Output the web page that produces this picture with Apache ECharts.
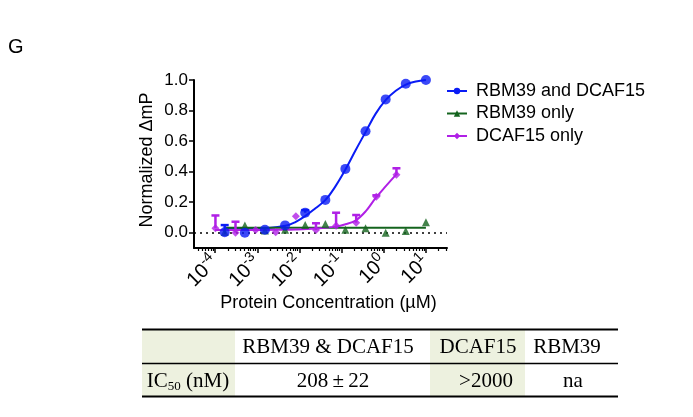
<!DOCTYPE html>
<html>
<head>
<meta charset="utf-8">
<script src="https://cdn.jsdelivr.net/npm/echarts@6/dist/echarts.min.js"></script>
<style>
  html, body { margin: 0; padding: 0; background: #fff; }
  #chart { width: 693px; height: 417px; }
</style>
</head>
<body>
<div id="chart"></div>
<script>
// concentrations in uM (3-fold dilutions)
const concBoth = [0.000169, 0.000508, 0.00152, 0.00457, 0.0137, 0.0412, 0.123, 0.370, 1.11, 3.33, 10];
const concDcaf = [0.000102, 0.000305, 0.000914, 0.00274, 0.00823, 0.0247, 0.0741, 0.222, 0.667, 2];

// measured points
const bothVals  = [0.003, 0.0, 0.02, 0.048, 0.131, 0.215, 0.418, 0.665, 0.873, 0.976, 1.0];
const bothErr   = [0.05, null, null, null, 0.148, null, null, null, null, null, null];
const rbmVals   = [0.005, 0.048, 0.015, 0.02, 0.05, 0.057, 0.02, 0.03, 0.0, 0.011, 0.068];
const dcafVals  = [0.03, 0.0, 0.018, 0.003, 0.108, 0.018, 0.046, 0.066, 0.236, 0.379];
const dcafErr   = [0.113, 0.072, null, null, null, 0.062, 0.131, 0.116, 0.245, 0.422];

// fitted curves
const bothFitConc = [0.000173, 0.000518, 0.00155, 0.00464, 0.00803, 0.0139, 0.024, 0.0416, 0.072, 0.124, 0.215, 0.372, 0.645, 1.12, 1.93, 3.34, 5.78, 10];
const bothFitVals = [0.025, 0.026, 0.03, 0.045, 0.07, 0.11, 0.16, 0.215, 0.305, 0.415, 0.54, 0.66, 0.78, 0.87, 0.93, 0.97, 0.99, 1.0];
const rbmFitConc  = [0.000169, 10];
const rbmFitVals  = [0.032, 0.032];
const dcafFitConc = [0.0001, 0.000299, 0.000896, 0.00268, 0.00803, 0.024, 0.072, 0.124, 0.215, 0.372, 0.645, 1.12, 2.04];
const dcafFitVals = [0.018, 0.018, 0.018, 0.019, 0.021, 0.027, 0.04, 0.055, 0.08, 0.14, 0.228, 0.305, 0.385];

const names = ['RBM39 and DCAF15', 'RBM39 only', 'DCAF15 only'];
const colors = ['#0a1cf5', '#14641e', '#b020e6'];

const xMajor = [-4, -3, -2, -1, 0, 1];
const yTicks = [0, 0.2, 0.4, 0.6, 0.8, 1.0];

const tableHead = ['RBM39 & DCAF15', 'DCAF15', 'RBM39'];
const tableRow = ['208\u2009\u00b1\u200922', '>2000', 'na'];

// minor log ticks between decades
const xMinor = [];
for (let d = -5; d <= 1; d++) {
  for (let k = 2; k <= 9; k++) {
    const v = Math.log10(k) + d;
    if (v > -4.5 && v < 1.5) xMinor.push(v);
  }
}

const pts = (xs, ys) => xs.map((c, i) => [Math.log10(c), ys[i]]);
const errPts = (xs, ys, hi) => xs.map((c, i) => [Math.log10(c), ys[i], hi[i]]).filter(d => d[2] != null);

function errRender(color) {
  return function (params, api) {
    const p = api.coord([api.value(0), api.value(1)]);
    const q = api.coord([api.value(0), api.value(2)]);
    return {
      type: 'group',
      children: [
        { type: 'line', shape: { x1: p[0], y1: p[1], x2: q[0], y2: q[1] }, style: { stroke: color, lineWidth: 2.5 } },
        { type: 'line', shape: { x1: q[0] - 4, y1: q[1], x2: q[0] + 4, y2: q[1] }, style: { stroke: color, lineWidth: 2.5 } }
      ]
    };
  };
}

const font = 'Liberation Sans, Arial, sans-serif';
const serif = 'Liberation Serif, Times New Roman, serif';

const chart = echarts.init(document.getElementById('chart'));
chart.setOption({
  animation: false,
  textStyle: { fontFamily: font, color: '#000' },
  grid: { left: 194, right: 246, top: 80, bottom: 169 },
  legend: {
    data: names,
    orient: 'vertical',
    left: 446,
    top: 82,
    padding: 0,
    itemWidth: 20,
    itemHeight: 8,
    itemGap: 4.5,
    selectedMode: false,
    textStyle: { fontSize: 18, color: '#000', fontFamily: font, padding: [0, 0, 0, 4] }
  },
  xAxis: [
    {
      type: 'value', min: -4.5, max: 1.5, position: 'bottom',
      name: 'Protein Concentration (\u00b5M)', nameLocation: 'middle', nameGap: 45,
      nameTextStyle: { fontSize: 18, color: '#000', padding: [0, 0, 0, 16] },
      axisLine: { onZero: false, lineStyle: { color: '#000', width: 2 } },
      axisTick: { customValues: xMajor, length: 5, lineStyle: { color: '#000', width: 1.5 } },
      axisLabel: {
        customValues: xMajor, rotate: 45, margin: 11, color: '#000', fontSize: 20,
        formatter: v => '{b|10}{s|' + v + '}',
        rich: {
          b: { fontSize: 20, fontFamily: font, color: '#000' },
          s: { fontSize: 14, fontFamily: font, color: '#000', padding: [0, 0, 13, 0] }
        }
      },
      splitLine: { show: false }
    },
    {
      type: 'value', min: -4.5, max: 1.5, position: 'bottom', gridIndex: 0,
      axisLine: { show: false, onZero: false },
      axisTick: { customValues: xMinor, length: 3, lineStyle: { color: '#000', width: 1.2 } },
      axisLabel: { show: false },
      splitLine: { show: false }
    }
  ],
  yAxis: {
    type: 'value', min: -0.1, max: 1.0, position: 'left',
    name: 'Normalized \u0394mP', nameLocation: 'middle', nameGap: 38,
    nameTextStyle: { fontSize: 18, color: '#000', padding: [0, 0, 0, 8] },
    axisLine: { show: true, onZero: false, lineStyle: { color: '#000', width: 2 } },
    axisTick: { show: true, customValues: yTicks, length: 5, lineStyle: { color: '#000', width: 1.5 } },
    axisLabel: { customValues: yTicks, fontSize: 17, color: '#000', margin: 6, formatter: v => v.toFixed(1) },
    splitLine: { show: false }
  },
  series: [
    {
      name: names[0], type: 'line', data: pts(bothFitConc, bothFitVals),
      smooth: 0.4, showSymbol: false, symbol: 'circle', color: colors[0],
      lineStyle: { width: 2 }, z: 3,
      markLine: {
        silent: true, symbol: 'none', label: { show: false },
        lineStyle: { type: [2, 4], color: '#000', width: 1.5 },
        data: [{ yAxis: 0 }]
      }
    },
    {
      name: names[1], type: 'line', data: pts(rbmFitConc, rbmFitVals),
      showSymbol: false, symbol: 'triangle', color: colors[1], lineStyle: { width: 2 }, z: 3
    },
    {
      name: names[2], type: 'line', data: pts(dcafFitConc, dcafFitVals),
      smooth: 0.4, showSymbol: false, symbol: 'diamond', color: colors[2], lineStyle: { width: 2 }, z: 3
    },
    { name: 'err1', type: 'custom', renderItem: errRender(colors[0]), data: errPts(concBoth, bothVals, bothErr), z: 4 },
    { name: 'err3', type: 'custom', renderItem: errRender(colors[2]), data: errPts(concDcaf, dcafVals, dcafErr), z: 4 },
    { name: 'pts2', type: 'scatter', data: pts(concBoth, rbmVals), symbol: 'triangle', symbolSize: 8, color: colors[1], z: 5 },
    { name: 'pts3', type: 'scatter', data: pts(concDcaf, dcafVals), symbol: 'diamond', symbolSize: 8, color: colors[2], z: 5 },
    { name: 'pts1', type: 'scatter', data: pts(concBoth, bothVals), symbol: 'circle', symbolSize: 10, color: colors[0], z: 6 }
  ],
  graphic: [
    { type: 'text', left: 8, top: 37, style: { text: 'G', fontSize: 20, fontFamily: font, fill: '#000' } },
    // table shading
    { type: 'rect', shape: { x: 142, y: 330, width: 93, height: 66 }, style: { fill: '#edf1df' }, silent: true },
    { type: 'rect', shape: { x: 430, y: 330, width: 95, height: 66 }, style: { fill: '#edf1df' }, silent: true },
    // table rules
    { type: 'line', shape: { x1: 142, y1: 329.5, x2: 618, y2: 329.5 }, style: { stroke: '#000', lineWidth: 2 } },
    { type: 'line', shape: { x1: 142, y1: 363.5, x2: 618, y2: 363.5 }, style: { stroke: '#000', lineWidth: 1.5 } },
    { type: 'line', shape: { x1: 142, y1: 396.5, x2: 618, y2: 396.5 }, style: { stroke: '#000', lineWidth: 2 } },
    // header row
    { type: 'text', x: 328, y: 347, style: { text: tableHead[0], fontSize: 21, fontFamily: serif, fill: '#000', align: 'center', verticalAlign: 'middle' } },
    { type: 'text', x: 478, y: 347, style: { text: tableHead[1], fontSize: 21, fontFamily: serif, fill: '#000', align: 'center', verticalAlign: 'middle' } },
    { type: 'text', x: 567, y: 347, style: { text: tableHead[2], fontSize: 21, fontFamily: serif, fill: '#000', align: 'center', verticalAlign: 'middle' } },
    // value row
    {
      type: 'text', x: 188, y: 381,
      style: {
        text: '{a|IC}{s|50}{a| (nM)}', align: 'center', verticalAlign: 'middle',
        rich: {
          a: { fontSize: 21, fontFamily: serif, fill: '#000' },
          s: { fontSize: 13, fontFamily: serif, fill: '#000', padding: [12, 0, 0, 0] }
        }
      }
    },
    { type: 'text', x: 333, y: 381, style: { text: tableRow[0], fontSize: 21, fontFamily: serif, fill: '#000', align: 'center', verticalAlign: 'middle' } },
    { type: 'text', x: 486, y: 381, style: { text: tableRow[1], fontSize: 21, fontFamily: serif, fill: '#000', align: 'center', verticalAlign: 'middle' } },
    { type: 'text', x: 573, y: 381, style: { text: tableRow[2], fontSize: 21, fontFamily: serif, fill: '#000', align: 'center', verticalAlign: 'middle' } }
  ]
});
</script>
</body>
</html>
